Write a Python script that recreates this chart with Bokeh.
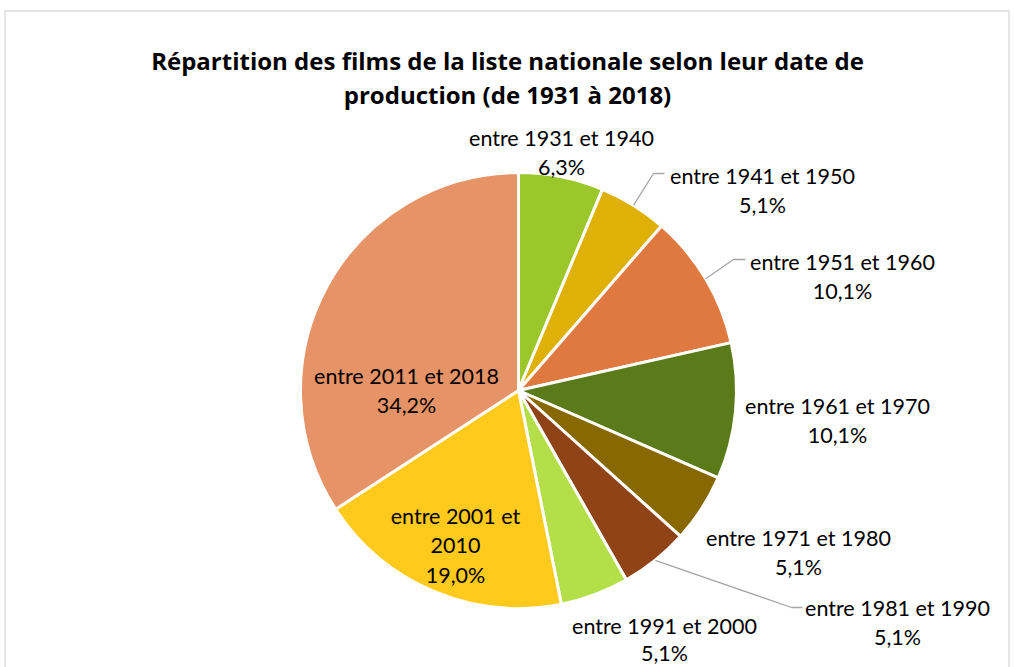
import math
from bokeh.plotting import figure
from bokeh.models import Range1d, ColumnDataSource
from bokeh.core.properties import value
from bokeh.embed import file_html
from bokeh.resources import INLINE

# ---- data ----
categories = ["entre 1931 et 1940", "entre 1941 et 1950", "entre 1951 et 1960",
              "entre 1961 et 1970", "entre 1971 et 1980", "entre 1981 et 1990",
              "entre 1991 et 2000", "entre 2001 et 2010", "entre 2011 et 2018"]
percents = [6.3, 5.1, 10.1, 10.1, 5.1, 5.1, 5.1, 19.0, 34.2]
label_lines = [["entre 1931 et 1940", "6,3%"],
               ["entre 1941 et 1950", "5,1%"],
               ["entre 1951 et 1960", "10,1%"],
               ["entre 1961 et 1970", "10,1%"],
               ["entre 1971 et 1980", "5,1%"],
               ["entre 1981 et 1990", "5,1%"],
               ["entre 1991 et 2000", "5,1%"],
               ["entre 2001 et", "2010", "19,0%"],
               ["entre 2011 et 2018", "34,2%"]]
colors = ["#9BC72A", "#DFB005", "#E0793F", "#5B7A19", "#886800",
          "#914318", "#B4DF48", "#FFCA1C", "#E69467"]
title_lines = ["Répartition des films de la liste nationale selon leur date de",
               "production (de 1931 à 2018)"]

# ---- layout (page pixel coordinates) ----
W, H = 1014, 667
def X(px): return px
def Y(py): return H - py

CX, CY, R = 518, 390, 218
FONT = "Lato"
FS = "21.5px"

# label centre x, first baseline y (page px), line spacing
label_pos = [(561, 137), (762, 175), (842, 261), (837, 405), (798, 537),
             (897, 607), (664, 625), (455, 515), (406, 375)]
line_h = [29.5, 29.5, 29.5, 29.5, 29.5, 29.5, 27.5, 29.5, 29.5]
# leaders: slice index -> (elbow, end)
leaders = {1: ((653, 173), (664, 173)),
           2: ((733, 259), (745, 259)),
           5: ((791, 607), (802, 607))}

p = figure(width=W, height=H, output_backend="svg", toolbar_location=None,
           x_range=Range1d(0, W), y_range=Range1d(0, H), min_border=0)
p.axis.visible = False
p.grid.visible = False
p.outline_line_color = None
p.background_fill_color = "white"

# frame
p.multi_line(xs=[[X(4.5), X(4.5), X(1008.5), X(1008.5)]],
             ys=[[Y(700), Y(10.5), Y(10.5), Y(700)]],
             line_color="#d9d9d9", line_width=1.3)

# wedges
total = sum(percents)
starts, ends, mids = [], [], []
cum = 0.0
for v in percents:
    a0 = math.pi / 2 - 2 * math.pi * cum / total
    cum += v
    a1 = math.pi / 2 - 2 * math.pi * cum / total
    starts.append(a0); ends.append(a1); mids.append((a0 + a1) / 2)

src = ColumnDataSource(dict(start=starts, end=ends, color=colors, cat=categories, pct=percents))
p.wedge(x=X(CX), y=Y(CY), radius=R, start_angle="start", end_angle="end",
        direction="clock", fill_color="color", line_color="white", line_width=3,
        source=src)

# leader lines
for i, (elbow, end) in leaders.items():
    sx = X(CX) + R * math.cos(mids[i])
    sy = Y(CY) + R * math.sin(mids[i])
    p.line(x=[sx, X(elbow[0]), X(end[0])], y=[sy, Y(elbow[1]), Y(end[1])],
           line_color="#a6a6a6", line_width=1.3)

# labels
xs, ys, ts = [], [], []
for (lx, ly), lh, lines in zip(label_pos, line_h, label_lines):
    for k, t in enumerate(lines):
        xs.append(X(lx)); ys.append(Y(ly + k * lh)); ts.append(t)
p.text(x=xs, y=ys, text=ts, text_align="center", text_baseline="alphabetic",
       text_font=value(FONT), text_font_size=FS, text_color="#000000")

# title
p.text(x=[X(507), X(507)], y=[Y(59.5), Y(94)], text=title_lines,
       text_align="center", text_baseline="alphabetic",
       text_font=value("Open Sans"), text_font_size="24px", text_font_style="bold",
       text_color="#000000")

open("out.html", "w").write(file_html(p, INLINE))
